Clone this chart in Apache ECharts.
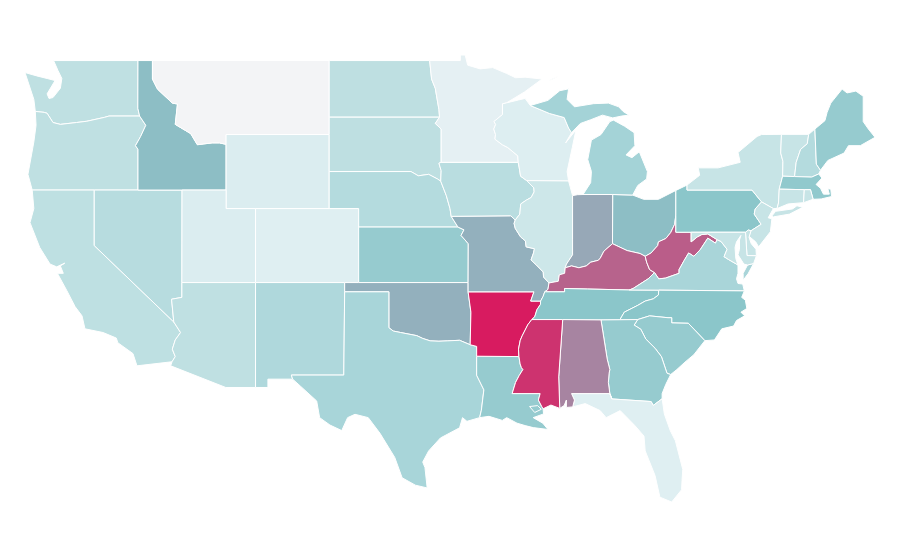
<!DOCTYPE html>
<html><head><meta charset="utf-8">
<style>html,body{margin:0;padding:0;background:#fff}#c{width:900px;height:560px}</style>
<script src="https://cdn.jsdelivr.net/npm/echarts@6/dist/echarts.min.js"></script>
</head><body><div id="c"></div>
<script>
const stateNames=['Washington','Oregon','California','Nevada','Idaho','Montana','Wyoming','Utah','Colorado','Arizona','New Mexico','North Dakota','South Dakota','Nebraska','Kansas','Oklahoma','Texas','Louisiana','Arkansas','Missouri','Iowa','Minnesota','Wisconsin','Illinois','Indiana','Ohio','Michigan','Kentucky','Tennessee','West Virginia','Virginia','North Carolina','South Carolina','Georgia','Florida','Alabama','Mississippi','Pennsylvania','New York','New Jersey','Delaware','Maryland','Vermont','New Hampshire','Maine','Massachusetts','Connecticut','Rhode Island'];
const stateValues=[25,25,25.5,29,52,0,13,13,11,25,33,25.7,25.7,30.5,44.8,56,36.7,44.8,100,56,28,7.6,12,19,58.5,52,38.6,79,49.5,80.6,36,49.5,44.8,44.8,11,69,93,49.5,21.4,21.4,21.4,21.4,21.4,30.5,44.8,47,21.4,21.4];
const colorStops=['#f3f4f6','#dceef1','#bfe0e2','#a6d4d8','#8ac5c9','#9d9aaf','#b17095','#c4467a','#d81b60'];

// Shared state borders, in longitude / latitude
const WA_COAST=[[-124,46.25],[-124.1,46.9],[-124.7,48.35],[-123.9,48.17],[-123.2,48.03],[-122.66,47.92],[-123.2,47.2],[-123.07,46.95],[-122.8,47],[-122.3,47.5],[-122.2,48.03],[-122.46,48.46],[-122.76,49],[-117.03,49]];
const ID_WA=[[-117.03,49],[-117.04,46.42],[-116.92,46]];
const OR_WA=[[-124,46.25],[-123.4,46.2],[-123.2,46.15],[-122.8,45.65],[-122.3,45.55],[-121.2,45.65],[-120.5,45.72],[-119.3,45.93],[-119,46],[-116.92,46]];
const ID_OR=[[-116.92,46],[-116.5,45.5],[-116.85,44.9],[-117.2,44.4],[-117.03,44.2],[-117.03,42]];
const OR_NV=[[-120,42],[-117.03,42]];
const CA_OR=[[-124.21,42],[-120,42]];
const OR_COAST=[[-124,46.25],[-123.95,45.5],[-124.1,44.6],[-124.5,42.85],[-124.21,42]];
const CA_NV=[[-114.6,34.87],[-120,39],[-120,42]];
const AZ_CA=[[-114.72,32.72],[-114.5,33],[-114.7,33.4],[-114.5,33.9],[-114.14,34.3],[-114.6,34.87]];
const CA_COAST=[[-124.21,42],[-124.1,41],[-124.36,40.24],[-123.7,38.9],[-123,38],[-122.55,37.85],[-122,38.05],[-122.3,37.9],[-122.1,37.5],[-122.5,37.5],[-121.85,36.55],[-121.3,35.7],[-120.83,35.2],[-120.63,34.5],[-119.4,34.3],[-118.5,34],[-118.4,33.75],[-117.37,33.16],[-117.1,32.5],[-114.72,32.72]];
const ID_NV=[[-117.03,42],[-114.04,42]];
const UT_NV=[[-114.04,42],[-114.05,37]];
const AZ_NV=[[-114.6,34.87],[-114.75,36.1],[-114.05,36.2],[-114.05,37]];
const ID_MT=[[-116.05,49],[-116.05,48],[-115.7,47.45],[-114.7,46.7],[-114.35,46.65],[-114.5,45.55],[-113.45,45.05],[-113,44.45],[-112,44.55],[-111.5,44.55],[-111.05,44.47]];
const ID_WY=[[-111.05,42],[-111.05,44.47]];
const UT_ID=[[-114.04,42],[-111.05,42]];
const MT_ND=[[-104.05,49],[-104.05,45.94]];
const MT_SD=[[-104.05,45.94],[-104.05,45]];
const MT_WY=[[-111.05,44.47],[-111.05,45],[-104.05,45]];
const WY_SD=[[-104.05,45],[-104.05,43]];
const WY_NE=[[-104.05,43],[-104.05,41]];
const WY_CO=[[-109.05,41],[-104.05,41]];
const UT_WY=[[-111.05,42],[-111.05,41],[-109.05,41]];
const UT_CO=[[-109.05,41],[-109.05,37]];
const UT_AZ=[[-114.05,37],[-109.05,37]];
const CO_NE=[[-104.05,41],[-102.05,41],[-102.05,40]];
const CO_KS=[[-102.05,40],[-102.05,37]];
const CO_OK=[[-102.05,37],[-103,37]];
const CO_NM=[[-103,37],[-109.05,37]];
const AZ_NM=[[-109.05,31.33],[-109.05,37]];
const AZ_S=[[-109.05,31.33],[-111.07,31.33],[-114.81,32.5],[-114.72,32.72]];
const NM_OK=[[-103,37],[-103,36.5]];
const NM_TX=[[-103,36.5],[-103.06,32],[-106.62,32],[-106.53,31.78]];
const NM_S=[[-106.53,31.78],[-108.21,31.78],[-108.21,31.33],[-109.05,31.33]];
const N49_ND=[[-104.05,49],[-97.23,49]];
const ND_MN=[[-97.23,49],[-97.1,48],[-96.85,47.5],[-96.6,46.35],[-96.56,45.94]];
const ND_SD=[[-104.05,45.94],[-96.56,45.94]];
const SD_MN=[[-96.56,45.94],[-96.85,45.6],[-96.45,45.3],[-96.45,43.5]];
const SD_IA=[[-96.45,43.5],[-96.6,43.45],[-96.45,43.05],[-96.48,42.48]];
const SD_NE=[[-104.05,43],[-98.5,43],[-98,42.77],[-97.3,42.85],[-96.7,42.6],[-96.48,42.48]];
const NE_IA=[[-96.48,42.48],[-96.1,41.7],[-95.85,41],[-95.77,40.58]];
const NE_MO=[[-95.77,40.58],[-95.31,40]];
const KS_NE=[[-102.05,40],[-95.31,40]];
const KS_MO=[[-95.31,40],[-94.9,39.85],[-95.1,39.55],[-94.61,39.1],[-94.62,37]];
const KS_OK=[[-102.05,37],[-94.62,37]];
const MO_OK=[[-94.62,36.5],[-94.62,37]];
const AR_OK=[[-94.48,33.64],[-94.43,35.4],[-94.62,36.5]];
const TX_OK=[[-94.48,33.64],[-95.2,33.88],[-96,33.85],[-96.6,33.83],[-97.2,33.85],[-97.7,33.98],[-98.1,34.13],[-99.2,34.3],[-99.7,34.38],[-100,34.56],[-100,36.5],[-103,36.5]];
const AR_TX=[[-94.04,33.02],[-94.04,33.55],[-94.48,33.64]];
const TX_LA=[[-93.84,29.7],[-93.72,30.1],[-93.55,31.2],[-94.04,31.99],[-94.04,33.02]];
const TX_COAST=[[-93.84,29.7],[-94.7,29.5],[-95,29.7],[-95.2,29.15],[-96.5,28.6],[-97.3,27.9],[-97.7,27.3],[-97.55,27],[-97.4,25.9],[-98.2,26.05],[-99.1,26.45],[-99.6,27.55],[-100.6,28.85],[-101.4,29.7],[-102.3,29.88],[-102.8,29.7],[-103.2,29],[-104,29.3],[-104.7,29.7],[-104.9,30.6],[-106,31.4],[-106.53,31.78]];
const AR_LA=[[-94.04,33.02],[-91.17,33]];
const MS_LA=[[-91.17,33],[-91.09,32.6],[-91,32.4],[-90.9,32.3],[-91.15,31.98],[-91.4,31.6],[-91.63,31],[-89.73,31],[-89.85,30.65],[-89.62,30.3],[-89.53,30.18]];
const LA_COAST=[[-89.53,30.18],[-89.5,29.9],[-90.2,29.7],[-89.55,29.4],[-89.2,29.06],[-90.2,29.16],[-90.75,29.27],[-91.3,29.4],[-92,29.7],[-92.3,29.55],[-93.2,29.77],[-93.84,29.7]];
const AR_MO=[[-94.62,36.5],[-90.15,36.5],[-90.37,36],[-89.7,36]];
const TN_AR=[[-89.7,36],[-89.71,35.82],[-89.95,35.53],[-90.1,35.15],[-90.3,35]];
const MS_AR=[[-90.3,35],[-90.57,34.72],[-90.95,34.12],[-91.08,33.88],[-91.2,33.4],[-91.17,33]];
const IA_MO=[[-95.77,40.58],[-91.73,40.61],[-91.42,40.38]];
const IL_MO=[[-91.42,40.38],[-91.5,40.2],[-91.42,39.93],[-91.06,39.47],[-90.73,39.25],[-90.68,38.93],[-90.12,38.83],[-90.18,38.6],[-90.35,38.22],[-90,37.96],[-89.52,37.57],[-89.5,37.3],[-89.13,36.98]];
const KY_MO=[[-89.13,36.98],[-89.2,36.63],[-89.42,36.5]];
const TN_MO=[[-89.42,36.5],[-89.53,36.25],[-89.7,36]];
const MN_IA=[[-96.45,43.5],[-91.22,43.5]];
const WI_IA=[[-91.22,43.5],[-91.15,43.2],[-91.06,42.75],[-90.64,42.51]];
const IL_IA=[[-90.64,42.51],[-90.42,42.33],[-90.16,42.12],[-90.14,41.9],[-90.34,41.6],[-90.66,41.46],[-91.05,41.25],[-91.11,40.7],[-91.42,40.38]];
const N49_MN=[[-97.23,49],[-95.15,49],[-95.15,49.3],[-94.82,49.3],[-94.65,48.75],[-93.8,48.55],[-92.95,48.62],[-92,48.3],[-91.4,48.07],[-90.75,48.1],[-89.6,48],[-90.8,47.3],[-92.02,46.71]];
const MN_WI=[[-92.02,46.71],[-92.29,46.66],[-92.29,46.08],[-92.87,45.7],[-92.75,45.55],[-92.88,45.3],[-92.76,45],[-92.8,44.75],[-92.3,44.45],[-91.93,44.3],[-91.25,43.85],[-91.22,43.5]];
const WI_SUP=[[-92.02,46.71],[-91.2,46.87],[-90.75,46.95],[-90.4,46.57]];
const MI_WI=[[-90.4,46.57],[-89.1,46.14],[-88.1,45.92],[-87.8,45.35],[-87.6,45.1]];
const WI_LAKE=[[-87.6,45.1],[-88,44.55],[-87.3,45.25],[-87.55,44.3],[-87.9,43],[-87.8,42.49]];
const IL_WI=[[-87.8,42.49],[-90.64,42.51]];
const IL_LAKE=[[-87.8,42.49],[-87.53,41.7]];
const IN_IL=[[-88.03,37.8],[-87.94,38],[-87.53,38.5],[-87.53,39.35],[-87.53,41.7]];
const IL_KY=[[-89.13,36.98],[-88.5,37.07],[-88.43,37.42],[-88.07,37.5],[-88.03,37.8]];
const IN_LAKE=[[-87.53,41.7],[-87.2,41.75],[-86.82,41.76]];
const MI_IN=[[-86.82,41.76],[-84.8,41.76]];
const IN_OH=[[-84.8,41.76],[-84.82,39.1]];
const IN_KY=[[-88.03,37.8],[-87.6,37.9],[-87.1,37.8],[-86.6,37.9],[-86.3,38.1],[-85.8,38.2],[-85.66,38.3],[-85.4,38.7],[-84.82,39.1]];
const MI_OH=[[-84.8,41.76],[-83.45,41.73]];
const OH_LAKE=[[-83.45,41.73],[-82.7,41.5],[-81.7,41.5],[-80.52,41.98]];
const OH_PA=[[-80.52,40.64],[-80.52,41.98]];
const OH_WV=[[-82.6,38.42],[-82.2,38.6],[-81.75,39],[-81.7,39.2],[-81.2,39.38],[-80.87,39.7],[-80.6,40.15],[-80.52,40.64]];
const OH_KY=[[-84.82,39.1],[-83.83,38.73],[-82.95,38.57],[-82.6,38.42]];
const KY_WV=[[-82.6,38.42],[-82.5,38.1],[-82.3,37.7],[-81.97,37.54]];
const KY_VA=[[-81.97,37.54],[-82.4,37.2],[-83.42,36.68],[-83.68,36.6]];
const KY_TN=[[-83.68,36.6],[-86.5,36.65],[-88.07,36.68],[-88.07,36.5],[-89.42,36.5]];
const TN_VA=[[-83.68,36.6],[-81.68,36.59]];
const TN_NC=[[-81.68,36.59],[-81.7,36.33],[-82.05,36.12],[-82.6,36],[-83.1,35.77],[-84.02,35.4],[-84.32,34.99]];
const TN_GA=[[-84.32,34.99],[-85.6,34.98]];
const TN_AL=[[-85.6,34.98],[-88.2,35]];
const TN_MS=[[-88.2,35],[-90.3,35]];
const VA_NC=[[-81.68,36.59],[-75.87,36.55]];
const VA_WV=[[-81.97,37.54],[-81.68,37.2],[-81.23,37.24],[-80.3,37.5],[-80.3,37.7],[-79.95,38.2],[-79.65,38.6],[-79.3,38.42],[-78.87,38.77],[-78.35,39.4],[-77.83,39.13],[-77.72,39.32]];
const MD_WV=[[-77.72,39.32],[-78.35,39.63],[-78.75,39.6],[-79.06,39.47],[-79.48,39.2],[-79.48,39.72]];
const PA_WV=[[-79.48,39.72],[-80.52,39.72],[-80.52,40.64]];
const PA_MD=[[-79.48,39.72],[-75.79,39.72]];
const MD_VA=[[-77.72,39.32],[-77.45,39.22],[-77.04,38.8],[-77.25,38.4],[-76.95,38.25],[-76.3,37.95]];
const VA_COAST=[[-76.3,37.95],[-76.3,37.5],[-76.4,37.2],[-76.3,36.95],[-75.98,36.92],[-75.87,36.55]];
const VA_SHORE=[[-75.65,37.95],[-75.24,38.03],[-75.6,37.5],[-75.95,37.12],[-75.95,37.5]];
const DE_MD=[[-75.79,39.72],[-75.69,38.46],[-75.05,38.45]];
const DE_COAST=[[-75.05,38.45],[-75.08,38.8],[-75.4,39.1],[-75.55,39.45],[-75.42,39.8]];
const DE_PA=[[-75.42,39.8],[-75.6,39.84],[-75.79,39.72]];
const MD_BAY=[[-75.05,38.45],[-75.24,38.03],[-75.65,37.95],[-75.9,38],[-76.3,38.5],[-76.2,38.8],[-76.2,39.3],[-76.1,39.55],[-76.4,39.2],[-76.5,38.9],[-76.45,38.3],[-76.3,37.95]];
const NC_COAST=[[-75.87,36.55],[-76.05,36.2],[-75.8,36.05],[-75.7,35.6],[-76.1,35.4],[-75.85,35.2],[-76.4,34.95],[-76.6,34.65],[-77.4,34.5],[-77.9,33.9],[-78.55,33.86]];
const SC_NC=[[-78.55,33.86],[-79.67,34.8],[-80.8,34.82],[-80.8,35.1],[-81.05,35.1],[-81.05,35.15],[-82.3,35.2],[-83.11,35]];
const GA_NC=[[-83.11,35],[-84.32,34.99]];
const SC_GA=[[-83.11,35],[-83.35,34.7],[-82.9,34.48],[-82.56,33.95],[-81.93,33.45],[-81.5,33],[-81.12,32.1],[-80.87,32.03]];
const SC_COAST=[[-80.87,32.03],[-80.45,32.3],[-79.9,32.7],[-79.3,33.1],[-78.55,33.86]];
const GA_COAST=[[-80.87,32.03],[-81.2,31.5],[-81.45,31],[-81.45,30.72]];
const GA_FL=[[-81.45,30.72],[-82.05,30.36],[-82.2,30.57],[-84.86,30.71]];
const GA_AL=[[-84.86,30.71],[-85,31],[-85.1,31.6],[-85.05,32.1],[-85,32.3],[-85.18,32.87],[-85.6,34.98]];
const FL_AL=[[-84.86,30.71],[-85,31],[-87.6,31],[-87.4,30.65],[-87.52,30.28]];
const FL_COAST=[[-81.45,30.72],[-81.3,29.9],[-80.9,29],[-80.55,28.45],[-80.05,26.9],[-80.1,26.3],[-80.13,25.8],[-80.8,25.14],[-81.6,25.4],[-81.93,26.57],[-82.6,27.9],[-82.68,28.7],[-83.3,29.27],[-84.3,30.08],[-85.25,29.7],[-85.66,30.08],[-86.67,30.46],[-87.52,30.28]];
const AL_COAST=[[-87.52,30.28],[-87.95,30.25],[-87.95,30.65],[-88.1,30.35],[-88.4,30.2]];
const AL_MS=[[-88.4,30.2],[-88.47,31.9],[-88.2,35]];
const MS_COAST=[[-88.4,30.2],[-89,30.38],[-89.53,30.18]];
const PA_LAKE=[[-80.52,41.98],[-79.76,42.27]];
const NY_PA=[[-79.76,42.27],[-79.76,42],[-75.35,42],[-74.7,41.36]];
const NJ_PA=[[-74.7,41.36],[-75.13,40.98],[-75.2,40.7],[-74.73,40.15],[-75.42,39.8]];
const NJ_NY=[[-74.7,41.36],[-73.9,41]];
const NJ_COAST=[[-73.9,41],[-74.25,40.5],[-74,40.45],[-74.1,39.75],[-74.9,38.93],[-75.1,39.2],[-75.55,39.5],[-75.42,39.8]];
const NY_LAKE=[[-79.76,42.27],[-78.9,42.8],[-79,43.2],[-77.65,43.2],[-76.15,43.5],[-76.3,44.03],[-75,44.9],[-74.7,45],[-73.35,45.01]];
const NY_VT=[[-73.35,45.01],[-73.4,44],[-73.25,43.55],[-73.27,42.75]];
const NY_MA=[[-73.27,42.75],[-73.5,42.05]];
const NY_CT=[[-73.5,42.05],[-73.55,41.3],[-73.65,41]];
const LONG_ISLAND=[[-74,40.6],[-73.75,40.85],[-72.6,40.98],[-72.3,41.15],[-71.9,41.07],[-72.8,40.7],[-73.9,40.55]];
const VT_TOP=[[-73.35,45.01],[-71.5,45.01]];
const VT_NH=[[-71.5,45.01],[-71.6,44.5],[-72.05,44.2],[-72.35,43.5],[-72.46,42.73]];
const VT_MA=[[-73.27,42.75],[-72.46,42.73]];
const NH_MA=[[-72.46,42.73],[-71.3,42.7],[-70.82,42.87]];
const NH_ME=[[-70.7,43.07],[-70.98,43.4],[-71.08,45.3]];
const ME_COAST=[[-71.08,45.3],[-70.4,45.75],[-70.25,46.2],[-70,46.7],[-69.23,47.46],[-68.9,47.25],[-68.3,47.35],[-67.8,47.07],[-67.8,45.7],[-67.45,45.3],[-67,44.85],[-68,44.4],[-68.8,44.4],[-69.1,44],[-70.2,43.6],[-70.7,43.07]];
const MA_COAST=[[-71.2,41.5],[-70.65,41.52],[-69.95,41.65],[-70,42.05],[-70.2,42.07],[-70.1,41.78],[-70.5,41.78],[-70.7,42.1],[-71,42.3],[-70.6,42.65],[-70.82,42.87]];
const MA_CT=[[-73.5,42.05],[-71.8,42.02]];
const MA_RI=[[-71.8,42.02],[-71.38,42.02],[-71.2,41.5]];
const CT_RI=[[-71.8,42.02],[-71.85,41.32]];
const CT_COAST=[[-71.85,41.32],[-72.9,41.25],[-73.65,41]];
const MI_UPPER=[[-90.4,46.57],[-89.1,46.14],[-88.1,45.92],[-87.8,45.35],[-87.6,45.1],[-87,45.6],[-86.3,45.8],[-85.5,46.05],[-84.8,45.9],[-84.2,46],[-83.7,46.05],[-84.1,46.25],[-84.4,46.5],[-85.1,46.7],[-86.1,46.67],[-87.4,46.5],[-87.9,46.9],[-87.8,47.47],[-88.4,47.37],[-89.2,46.85]];
const MI_LOWER=[[-86.82,41.76],[-86.3,42.4],[-86.25,43],[-86.5,43.65],[-86.25,44.7],[-85.6,45],[-85,45.7],[-84.75,45.78],[-84,45.45],[-83.35,45.1],[-83.3,44.4],[-83.9,43.9],[-83.5,43.75],[-83,44.07],[-82.45,43],[-82.5,42.6],[-83.1,42.25],[-83.45,41.73],[-84.8,41.76]];
const MI_ISLE=[[-89.2,47.85],[-88.5,48.17],[-88.9,48.02]];
const PONTCHARTRAIN=[[-90.45,30.3],[-89.9,30.35],[-89.65,30.15],[-90.1,29.98]];

const r=a=>a.slice().reverse();
const j=(...p)=>p.flat();
const outlines={
 'Washington':[[j(WA_COAST,ID_WA,r(OR_WA))]],
 'Oregon':[[j(OR_WA,ID_OR,r(OR_NV),r(CA_OR),r(OR_COAST))]],
 'California':[[j(CA_OR,r(CA_NV),r(AZ_CA),r(CA_COAST))]],
 'Nevada':[[j(OR_NV,ID_NV,UT_NV,r(AZ_NV),CA_NV)]],
 'Idaho':[[j(ID_MT,r(ID_WY),r(UT_ID),r(ID_NV),r(ID_OR),r(ID_WA))]],
 'Montana':[[j(r(ID_MT),MT_ND,MT_SD,r(MT_WY))]],
 'Wyoming':[[j(MT_WY,WY_SD,WY_NE,r(WY_CO),r(UT_WY),ID_WY)]],
 'Utah':[[j(UT_ID,UT_WY,UT_CO,r(UT_AZ),r(UT_NV))]],
 'Colorado':[[j(WY_CO,CO_NE,CO_KS,CO_OK,CO_NM,r(UT_CO))]],
 'Arizona':[[j(UT_AZ,r(AZ_NM),AZ_S,AZ_CA,AZ_NV)]],
 'New Mexico':[[j(r(CO_NM),NM_OK,NM_TX,NM_S,AZ_NM)]],
 'North Dakota':[[j(N49_ND,ND_MN,r(ND_SD),r(MT_ND))]],
 'South Dakota':[[j(ND_SD,SD_MN,SD_IA,r(SD_NE),r(WY_SD),r(MT_SD))]],
 'Nebraska':[[j(SD_NE,NE_IA,NE_MO,r(KS_NE),r(CO_NE),r(WY_NE))]],
 'Kansas':[[j(KS_NE,KS_MO,r(KS_OK),r(CO_KS))]],
 'Oklahoma':[[j(KS_OK,r(MO_OK),r(AR_OK),TX_OK,r(NM_OK),r(CO_OK))]],
 'Texas':[[j(r(TX_OK),r(AR_TX),r(TX_LA),TX_COAST,r(NM_TX))]],
 'Louisiana':[[j(TX_LA,AR_LA,MS_LA,LA_COAST),PONTCHARTRAIN]],
 'Arkansas':[[j(AR_MO,TN_AR,MS_AR,r(AR_LA),AR_TX,AR_OK)]],
 'Missouri':[[j(MO_OK,r(KS_MO),r(NE_MO),IA_MO,IL_MO,KY_MO,TN_MO,r(AR_MO))]],
 'Iowa':[[j(MN_IA,WI_IA,IL_IA,r(IA_MO),r(NE_IA),r(SD_IA))]],
 'Minnesota':[[j(N49_MN,MN_WI,r(MN_IA),r(SD_MN),r(ND_MN))]],
 'Wisconsin':[[j(WI_SUP,MI_WI,WI_LAKE,IL_WI,r(WI_IA),r(MN_WI))]],
 'Illinois':[[j(r(IL_WI),IL_LAKE,r(IN_IL),r(IL_KY),r(IL_MO),r(IL_IA))]],
 'Indiana':[[j(IN_IL,IN_LAKE,MI_IN,IN_OH,r(IN_KY))]],
 'Ohio':[[j(MI_OH,OH_LAKE,r(OH_PA),r(OH_WV),r(OH_KY),r(IN_OH))]],
 'Michigan':[[MI_UPPER],[MI_LOWER],[MI_ISLE]],
 'Kentucky':[[j(IL_KY,IN_KY,OH_KY,KY_WV,KY_VA,KY_TN,r(KY_MO))]],
 'Tennessee':[[j(r(KY_TN),TN_VA,TN_NC,TN_GA,TN_AL,TN_MS,r(TN_AR),r(TN_MO))]],
 'West Virginia':[[j(OH_WV,r(PA_WV),r(MD_WV),r(VA_WV),r(KY_WV))]],
 'Virginia':[[j(VA_WV,MD_VA,VA_COAST,r(VA_NC),r(TN_VA),r(KY_VA))],[VA_SHORE]],
 'North Carolina':[[j(VA_NC,NC_COAST,SC_NC,GA_NC,r(TN_NC))]],
 'South Carolina':[[j(SC_NC,SC_GA,SC_COAST)]],
 'Georgia':[[j(TN_GA,r(GA_AL),r(GA_FL),r(GA_COAST),r(SC_GA),GA_NC)]],
 'Florida':[[j(GA_FL,FL_AL,r(FL_COAST))]],
 'Alabama':[[j(TN_AL,r(AL_MS),r(AL_COAST),r(FL_AL),GA_AL)]],
 'Mississippi':[[j(TN_MS,MS_AR,MS_LA,r(MS_COAST),AL_MS)]],
 'Pennsylvania':[[j(OH_PA,PA_LAKE,NY_PA,NJ_PA,DE_PA,r(PA_MD),PA_WV)]],
 'New York':[[j(r(NY_PA),NY_LAKE,NY_VT,NY_MA,NY_CT,r(NJ_NY))],[LONG_ISLAND]],
 'New Jersey':[[j(NJ_NY,NJ_COAST,r(NJ_PA))]],
 'Delaware':[[j(r(DE_PA),r(DE_COAST),r(DE_MD))]],
 'Maryland':[[j(PA_MD,DE_MD,MD_BAY,r(MD_VA),MD_WV)]],
 'Vermont':[[j(VT_TOP,VT_NH,r(VT_MA),r(NY_VT))]],
 'New Hampshire':[[j(r(VT_NH),[[-71.08,45.3]],r(NH_ME),NH_MA.slice(-1),r(NH_MA))]],
 'Maine':[[j(NH_ME,ME_COAST)]],
 'Massachusetts':[[j(VT_MA,NH_MA,r(MA_COAST),r(MA_RI),r(MA_CT),r(NY_MA))]],
 'Connecticut':[[j(MA_CT,CT_RI,CT_COAST,r(NY_CT))]],
 'Rhode Island':[[j(MA_RI,CT_RI.slice(-1),r(CT_RI))]]
};
const closeRing=q=>q.concat([q[0]]);
const usa={type:'FeatureCollection',features:stateNames.map(n=>({type:'Feature',properties:{name:n},geometry:{type:'MultiPolygon',coordinates:outlines[n].map(p=>p.map(closeRing))}}))};
echarts.registerMap('usa',usa);
const chart=echarts.init(document.getElementById('c'),null,{renderer:'canvas'});
chart.setOption({
 animation:false,
 backgroundColor:'#fff',
 visualMap:{show:false,min:0,max:100,inRange:{color:colorStops}},
 series:[{type:'map',map:'usa',silent:true,roam:false,aspectScale:0.796,left:25,top:55,width:850,height:447,
  label:{show:false},itemStyle:{borderColor:'#fff',borderWidth:1},
  data:stateNames.map((n,i)=>({name:n,value:stateValues[i]}))}]
});
</script></body></html>
